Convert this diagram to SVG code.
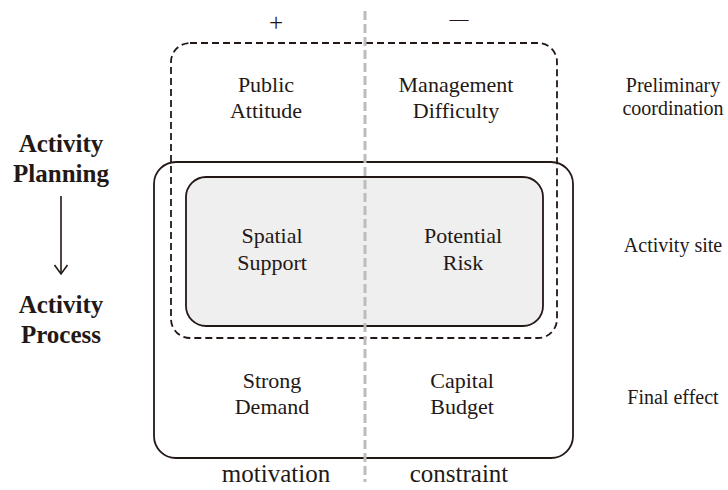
<svg xmlns="http://www.w3.org/2000/svg" width="728" height="490" viewBox="0 0 728 490">
<defs>
<style>
.t{font-family:"Liberation Serif","Times New Roman",serif;fill:#231815;text-anchor:middle}
.c{font-size:22px}
.r{font-size:20px}
.b{font-size:25px;font-weight:bold}
.ax{font-size:25px}
.frame{fill:none;stroke:#231815;stroke-width:1.8}
.dash{fill:none;stroke:#231815;stroke-width:1.8;stroke-dasharray:7 4}
</style>
</defs>
<rect width="728" height="490" fill="#ffffff"/>
<g id="outer-box"><rect class="frame" x="154" y="162" width="419" height="296" rx="22"/></g>
<g id="inner-box"><rect x="186" y="177" width="357" height="149" rx="20" fill="#efefef" stroke="#231815" stroke-width="1.8"/></g>
<g id="dashed-box"><rect class="dash" x="171" y="43" width="386" height="295" rx="19"/></g>
<g id="connectors">
<line x1="365" y1="11" x2="365" y2="482" stroke="#bcbcbc" stroke-width="3" stroke-dasharray="9 4"/>
<line x1="61" y1="196" x2="61" y2="273" stroke="#231815" stroke-width="1.6"/>
<polyline points="54.5,265 61,274 67.5,265" fill="none" stroke="#231815" stroke-width="1.6"/>
</g>
<g id="signs">
<text class="t" style="font-size:25px" x="276" y="31">+</text>
<text class="t" style="font-size:19px" x="459" y="25">—</text>
</g>
<g id="public-attitude"><text class="t c" x="266" y="92">Public</text><text class="t c" x="266" y="118">Attitude</text></g>
<g id="management-difficulty"><text class="t c" x="456" y="92">Management</text><text class="t c" x="456" y="118">Difficulty</text></g>
<g id="spatial-support"><text class="t c" x="272" y="243">Spatial</text><text class="t c" x="272" y="270">Support</text></g>
<g id="potential-risk"><text class="t c" x="463" y="243">Potential</text><text class="t c" x="463" y="270">Risk</text></g>
<g id="strong-demand"><text class="t c" x="272" y="388">Strong</text><text class="t c" x="272" y="414">Demand</text></g>
<g id="capital-budget"><text class="t c" x="462" y="388">Capital</text><text class="t c" x="462" y="414">Budget</text></g>
<g id="right-labels">
<text class="t r" x="673" y="92">Preliminary</text>
<text class="t r" x="673" y="115">coordination</text>
<text class="t r" x="673" y="252">Activity site</text>
<text class="t r" x="673" y="404">Final effect</text>
</g>
<g id="activity-planning"><text class="t b" x="61" y="152">Activity</text><text class="t b" x="61" y="182">Planning</text></g>
<g id="activity-process"><text class="t b" x="61" y="313">Activity</text><text class="t b" x="61" y="343">Process</text></g>
<g id="axis-labels">
<text class="t ax" x="276" y="482">motivation</text>
<text class="t ax" x="459" y="482">constraint</text>
</g>
</svg>
